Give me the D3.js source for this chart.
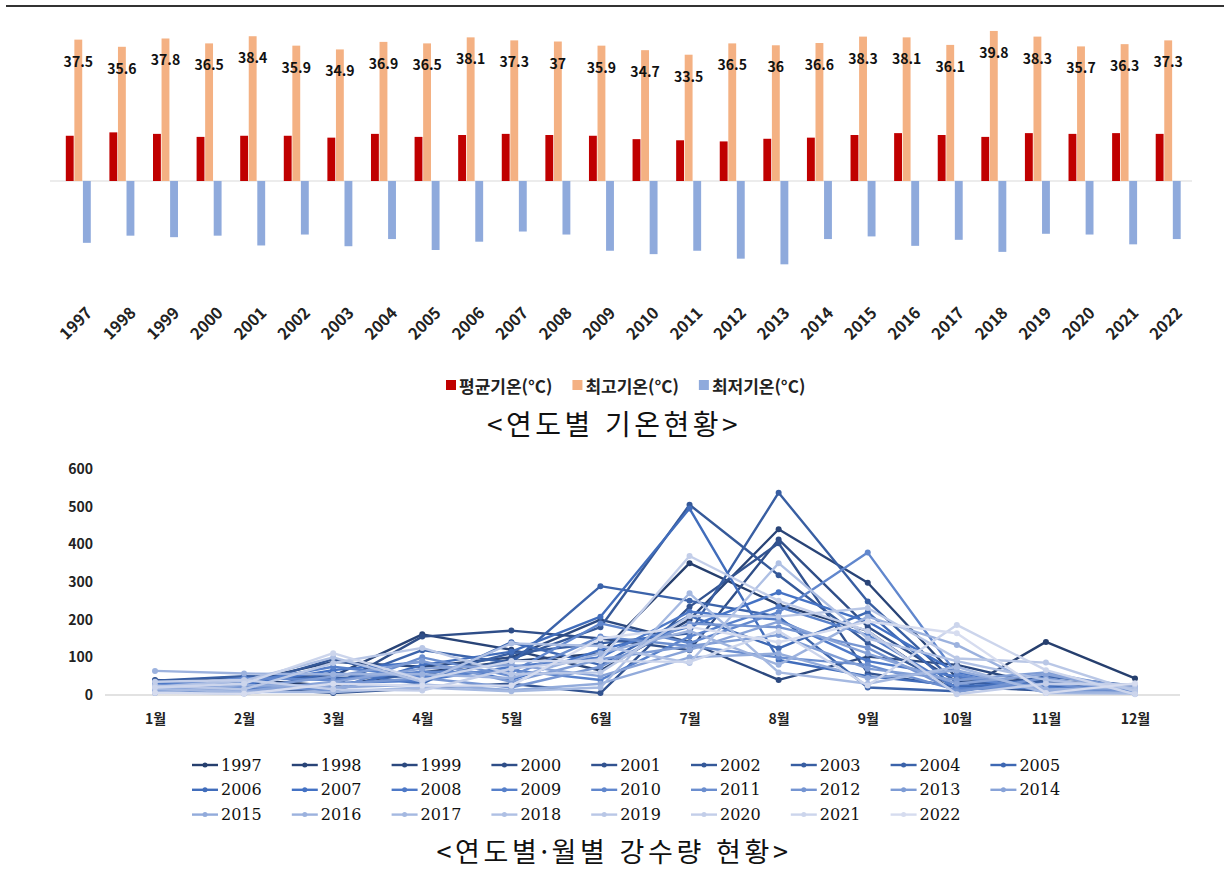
<!DOCTYPE html>
<html lang="ko">
<head>
<meta charset="utf-8">
<script src="https://cdn.jsdelivr.net/npm/d3@7"></script>
<style>
    body { margin: 0; background: #fff; }
    svg { display: block; font-family: "Noto Sans CJK KR", "Noto Sans", sans-serif; }
</style>
</head>
<body>
<svg id="chart" width="1226" height="869"></svg>
<script>
// 연도별 기온 (°C)
const years = [1997, 1998, 1999, 2000, 2001, 2002, 2003, 2004, 2005, 2006, 2007, 2008, 2009,
               2010, 2011, 2012, 2013, 2014, 2015, 2016, 2017, 2018, 2019, 2020, 2021, 2022];
const avgTemp = [12.0, 12.9, 12.5, 11.7, 12.0, 12.0, 11.5, 12.5, 11.7, 12.2, 12.5, 12.2, 12.0,
                 11.1, 10.8, 10.5, 11.2, 11.5, 12.2, 12.7, 12.2, 11.7, 12.7, 12.5, 12.7, 12.5];
const maxTemp = [37.5, 35.6, 37.8, 36.5, 38.4, 35.9, 34.9, 36.9, 36.5, 38.1, 37.3, 37, 35.9,
                 34.7, 33.5, 36.5, 36, 36.6, 38.3, 38.1, 36.1, 39.8, 38.3, 35.7, 36.3, 37.3];
const minTemp = [-16.4, -14.5, -14.9, -14.5, -17.1, -14.2, -17.3, -15.4, -18.3, -16.1, -13.4, -14.2, -18.5,
                 -19.4, -18.5, -20.6, -22.1, -15.4, -14.7, -17.2, -15.6, -18.8, -14.0, -14.2, -16.8, -15.4];
const tempSeries = ["평균기온(°C)", "최고기온(°C)", "최저기온(°C)"];
const tempColors = ["#c00000", "#f4b183", "#8faadc"];

// 연도별·월별 강수량 (mm)
const months = ["1월", "2월", "3월", "4월", "5월", "6월", "7월", "8월", "9월", "10월", "11월", "12월"];
const rainTicks = [0, 100, 200, 300, 400, 500, 600];
const rainfall = [
    [30, 40, 25, 60, 90, 110, 350, 240, 170, 5, 141, 44],      // 1997
    [36, 48, 50, 161, 120, 65, 200, 440, 298, 45, 30, 16],     // 1998
    [28, 35, 88, 75, 100, 200, 140, 40, 102, 80, 25, 12],      // 1999
    [40, 30, 22, 155, 171, 150, 119, 413, 181, 35, 40, 20],    // 2000
    [15, 20, 5, 18, 30, 5, 234, 403, 58, 22, 12, 8],           // 2001
    [20, 25, 95, 40, 95, 180, 505, 318, 138, 20, 15, 11],      // 2002
    [38, 50, 45, 50, 111, 137, 164, 537, 248, 31, 35, 22],     // 2003
    [26, 14, 30, 119, 85, 289, 250, 208, 20, 10, 49, 25],      // 2004
    [12, 10, 60, 30, 140, 80, 210, 124, 220, 15, 22, 5],       // 2005
    [22, 42, 10, 80, 115, 208, 495, 93, 50, 25, 28, 13],       // 2006
    [32, 28, 66, 88, 40, 120, 181, 273, 195, 60, 18, 10],      // 2007
    [30, 12, 32, 38, 75, 100, 221, 200, 90, 49, 10, 9],        // 2008
    [10, 33, 75, 48, 66, 40, 155, 234, 159, 18, 20, 7],        // 2009
    [24, 45, 40, 62, 60, 190, 138, 220, 378, 55, 8, 6],        // 2010
    [18, 22, 13, 100, 50, 155, 130, 100, 80, 13, 31, 4],       // 2011
    [8, 4, 28, 45, 20, 75, 190, 180, 125, 8, 45, 3],           // 2012
    [14, 18, 49, 90, 35, 95, 130, 159, 70, 40, 60, 15],        // 2013
    [20, 10, 35, 70, 80, 50, 120, 195, 110, 30, 55, 12],       // 2014
    [5, 27, 20, 28, 13, 30, 100, 110, 45, 65, 13, 5],          // 2015
    [64, 57, 55, 55, 45, 111, 170, 80, 208, 133, 15, 20],      // 2016
    [16, 8, 8, 20, 10, 20, 270, 60, 30, 75, 5, 4],             // 2017
    [22, 38, 100, 35, 137, 130, 85, 350, 150, 90, 40, 18],     // 2018
    [25, 15, 85, 125, 55, 60, 210, 208, 231, 97, 86, 10],      // 2019
    [35, 40, 15, 12, 70, 95, 369, 250, 170, 2, 30, 28],        // 2020
    [20, 30, 111, 40, 90, 90, 88, 170, 25, 186, 66, 2],        // 2021
    [6, 3, 30, 25, 25, 150, 181, 140, 195, 164, 5, 31]         // 2022
];

const svg = d3.select("#chart");

// 상단 구분선
svg.append("line")
    .attr("x1", 6).attr("x2", 1224).attr("y1", 6).attr("y2", 6)
    .attr("stroke", "#333").attr("stroke-width", 2);

drawTemperature();
drawRainfall();

/**
 * 연도별 기온현황 막대 차트
 */
function drawTemperature() {
    const g = svg.append("g");

    const x = d3.scaleBand().domain(years).range([56.5, 1190]).paddingInner(0.427).paddingOuter(0.2135);
    const xs = d3.scaleBand().domain(tempSeries).range([0, x.bandwidth()]).paddingInner(0.08);
    const y = d3.scaleLinear().domain([-30, 45]).range([181 + 30 * 3.77, 181 - 45 * 3.77]);

    const rows = years.map((yr, i) => ({ year: yr, values: [avgTemp[i], maxTemp[i], minTemp[i]] }));

    // 0 기준선
    g.append("line")
        .attr("x1", 50).attr("x2", 1192)
        .attr("y1", y(0)).attr("y2", y(0))
        .attr("stroke", "#d9d9d9").attr("stroke-width", 1);

    const grp = g.selectAll(".year").data(rows).enter().append("g")
        .attr("transform", d => `translate(${x(d.year)},0)`);

    grp.selectAll("rect").data(d => d.values.map((v, k) => ({ v, k }))).enter().append("rect")
        .attr("x", d => xs(tempSeries[d.k]))
        .attr("width", xs.bandwidth())
        .attr("y", d => y(Math.max(0, d.v)))
        .attr("height", d => Math.abs(y(d.v) - y(0)))
        .attr("fill", d => tempColors[d.k]);

    // 최고기온 라벨
    grp.append("text")
        .attr("x", xs(tempSeries[1]) + xs.bandwidth() / 2)
        .attr("y", d => y(d.values[1]) + 21)
        .attr("text-anchor", "middle")
        .attr("dominant-baseline", "central")
        .attr("font-size", 14).attr("font-weight", "bold").attr("fill", "#111")
        .text(d => d.values[1]);

    // 연도 라벨 (45도 회전)
    g.selectAll(".yr").data(years).enter().append("text")
        .attr("transform", d => `translate(${x(d) + x.bandwidth() / 2 + 10},309) rotate(-45)`)
        .attr("text-anchor", "end")
        .attr("dominant-baseline", "central")
        .attr("font-size", 16).attr("font-weight", "bold").attr("fill", "#222")
        .text(d => d);

    // 범례
    const lg = g.append("g").attr("transform", "translate(0,385)");
    let lx = 446;
    tempSeries.forEach((s, k) => {
        lg.append("rect").attr("x", lx).attr("y", -5).attr("width", 10).attr("height", 10).attr("fill", tempColors[k]);
        const t = lg.append("text").attr("x", lx + 13).attr("dominant-baseline", "central")
            .attr("font-size", 17).attr("font-weight", "bold").attr("fill", "#222").text(s);
        lx += 13 + t.node().getComputedTextLength() + 20;
    });

    svg.append("text")
        .attr("x", 614).attr("y", 423)
        .attr("text-anchor", "middle").attr("dominant-baseline", "central")
        .attr("font-size", 28).attr("letter-spacing", 3.5).attr("fill", "#111")
        .text("<연도별  기온현황>");
}

/**
 * 연도별·월별 강수량 꺾은선 차트
 */
function drawRainfall() {
    const g = svg.append("g");

    const x = d3.scalePoint().domain(months).range([155, 1135]);
    const y = d3.scaleLinear().domain([0, 600]).range([695, 469]);
    const color = d3.scaleLinear().domain([0, 10, 25]).range(["#263f6e", "#4472c4", "#d6dcef"]);

    // 0 기준선
    g.append("line")
        .attr("x1", 105).attr("x2", 1180)
        .attr("y1", y(0)).attr("y2", y(0))
        .attr("stroke", "#d9d9d9").attr("stroke-width", 1.5);

    const yAxis = g.append("g").attr("transform", "translate(100,0)")
        .call(d3.axisLeft(y).tickValues(rainTicks).tickSize(0).tickPadding(7));
    yAxis.select(".domain").remove();
    yAxis.selectAll("text")
        .attr("font-family", "'Noto Sans CJK KR', sans-serif")
        .attr("font-size", 14).attr("font-weight", "bold").attr("fill", "#222");

    const xAxis = g.append("g").attr("transform", "translate(0,714)")
        .call(d3.axisBottom(x).tickSize(0).tickPadding(0));
    xAxis.select(".domain").remove();
    xAxis.selectAll("text")
        .attr("font-family", "'Noto Sans CJK KR', sans-serif")
        .attr("font-size", 14).attr("font-weight", "bold").attr("fill", "#222");

    const line = d3.line().x((d, i) => x(months[i])).y(d => y(d));

    const series = g.selectAll(".series").data(rainfall).enter().append("g");
    series.append("path")
        .attr("d", d => line(d))
        .attr("fill", "none")
        .attr("stroke", (d, i) => color(i))
        .attr("stroke-width", 2.4)
        .attr("stroke-linejoin", "round");
    series.selectAll("circle").data((d, i) => d.map(v => ({ v, i }))).enter().append("circle")
        .attr("cx", (d, m) => x(months[m]))
        .attr("cy", d => y(d.v))
        .attr("r", 3)
        .attr("fill", d => color(d.i));

    // 범례 (9개씩 3줄)
    const lg = g.append("g");
    years.forEach((yr, i) => {
        const lx = 192 + (i % 9) * 99.8;
        const ly = 765 + Math.floor(i / 9) * 24.8;
        lg.append("line").attr("x1", lx).attr("x2", lx + 26).attr("y1", ly).attr("y2", ly)
            .attr("stroke", color(i)).attr("stroke-width", 2.4);
        lg.append("circle").attr("cx", lx + 13).attr("cy", ly).attr("r", 2.5).attr("fill", color(i));
        lg.append("text").attr("x", lx + 29).attr("y", ly)
            .attr("dominant-baseline", "central")
            .attr("font-family", "'DejaVu Serif', serif")
            .attr("font-size", 16).attr("fill", "#111")
            .text(yr);
    });

    svg.append("text")
        .attr("x", 614).attr("y", 850)
        .attr("text-anchor", "middle").attr("dominant-baseline", "central")
        .attr("font-size", 27).attr("letter-spacing", 3.6).attr("fill", "#111")
        .text("<연도별·월별 강수량 현황>");
}
</script>
</body>
</html>
